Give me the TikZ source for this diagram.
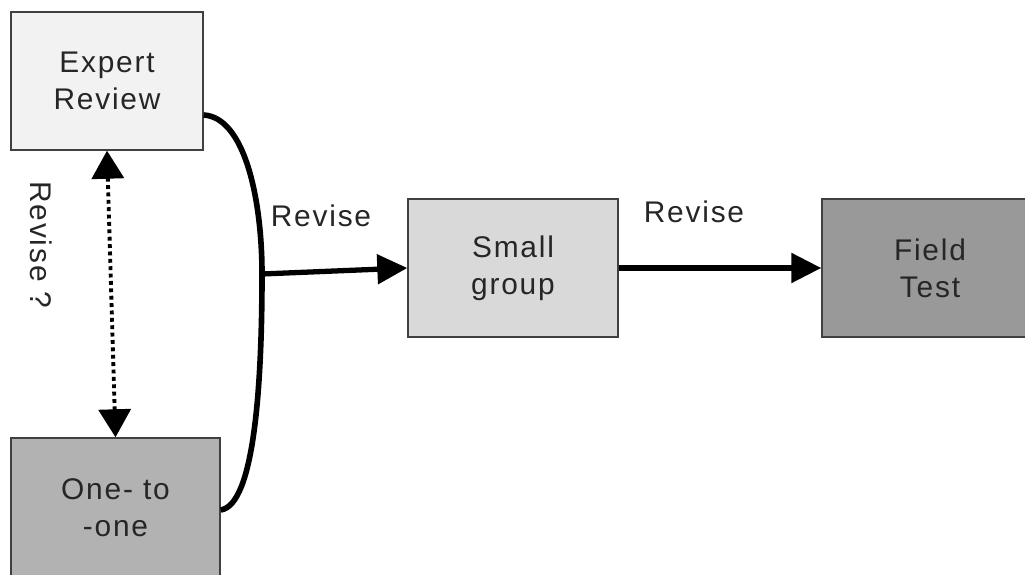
\documentclass[tikz,border=0pt]{standalone}
\usepackage{fontspec}
\newfontfamily\diagfont[LetterSpace=6]{Liberation Sans}
\usepackage{tikz}
\usetikzlibrary{arrows.meta, positioning, calc}

\begin{document}
\begin{tikzpicture}[
  stage/.style={
    rectangle, draw=black!75, line width=0.8pt,
    minimum width=4.2cm, minimum height=2.76cm, align=center,
    font=\diagfont\fontsize{17pt}{21pt}\selectfont, text=black!85
  },
  lab/.style={font=\diagfont\fontsize{17pt}{21pt}\selectfont, text=black!85},
  flow/.style={line width=3pt, -{Triangle[length=0.6cm, width=0.58cm]}},
  loop/.style={line width=2.2pt, dotted,
    {Triangle[length=0.56cm, width=0.64cm]}-{Triangle[length=0.56cm, width=0.64cm]}},
]
\useasboundingbox (0,0) rectangle (20.5,-11.5);

%%% Stages
\node[stage, fill=black!5, minimum width=3.84cm] (er) at (2.14,-1.62) {Expert\\Review};
\node[stage, fill=black!30, minimum width=4.18cm, minimum height=2.8cm] (oo) at (2.31,-10.16) {One- to\\-one};
\node[stage, fill=black!15] (sg) at (10.26,-5.36) {Small\\group};
\node[stage, fill=black!40, minimum width=4.32cm] (ft) at (18.6,-5.36) {Field\\Test};

%%% Brace joining the first two stages
\coordinate (j) at (5.24,-5.48);
\draw[line width=3.2pt]
  ([yshift=-0.68cm]er.east) .. controls (4.9,-2.35) and (5.24,-4.0) .. (j)
  .. controls (5.24,-7.6) and (5.1,-10.1) .. ([yshift=-0.04cm]oo.east);

%%% Revise arrows
\draw[flow] (j) -- (sg.west);
\draw[flow] (sg.east) -- (ft.west);
\node[lab] (rv1) at (6.42,-4.32) {Revise};
\node[lab] (rv2) at (13.88,-4.24) {Revise};

%%% Optional loop
\draw[loop] (er.south) -- (oo.north);
\node[lab, rotate=-90] (rv0) at (0.82,-4.9) {Revise ?};

\end{tikzpicture}
\end{document}
